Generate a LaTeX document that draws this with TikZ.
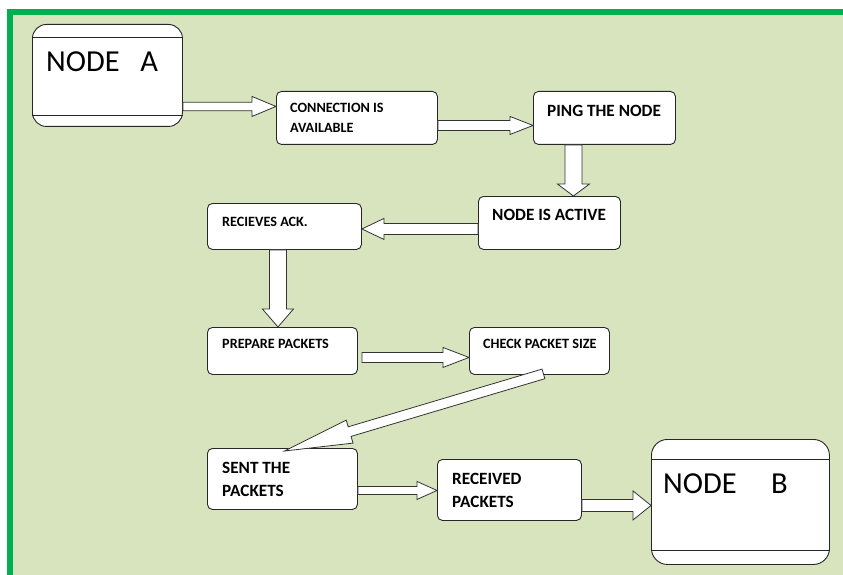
\documentclass[tikz,border=0pt]{standalone}
\usepackage{fontspec}
\setmainfont{Carlito}
\usepackage{tikz}
\usetikzlibrary{calc}
\definecolor{frameGreen}{HTML}{00B050}
\definecolor{paperGreen}{HTML}{D7E4BD}
\tikzstyle{procbox}=[draw=black!85, line width=0.9pt, fill=white, rounded corners=5, anchor=north west, inner sep=0]
\tikzstyle{endbox}=[procbox, rounded corners=14]
\tikzstyle{fat}=[draw=black!80, line width=0.8pt, fill=white, line join=miter]
\tikzstyle{txt}=[anchor=west, inner sep=0, align=left, font=\bfseries\fontsize{14.2}{20}\selectfont]
\tikzstyle{bigtxt}=[txt, font=\bfseries\fontsize{17.2}{23}\selectfont]
\tikzstyle{titletxt}=[anchor=west, inner sep=0, font=\fontsize{30.5}{36}\selectfont]
\newcommand{\proc}{\node[procbox]}
% tail, tip, shaft half width, head half width, head length
\newcommand{\fatarrow}[5]{%
  \coordinate (fa-s) at (#1);
  \coordinate (fa-t) at (#2);
  \coordinate (fa-h) at ($(fa-t)!#5pt!(fa-s)$);
  \draw[fat] ($(fa-s)!#3pt!90:(fa-t)$) -- ($(fa-h)!#3pt!90:(fa-t)$)
    -- ($(fa-h)!#4pt!90:(fa-t)$) -- (fa-t) -- ($(fa-h)!#4pt!-90:(fa-t)$)
    -- ($(fa-h)!#3pt!-90:(fa-t)$) -- ($(fa-s)!#3pt!-90:(fa-t)$) -- cycle;
}

\begin{document}
\begin{tikzpicture}[x=1pt, y=-1pt]
\useasboundingbox (0,0) rectangle (843,575);
\fill[paperGreen] (7,9) rectangle (843,575);
\fill[frameGreen] (7,9) rectangle (843,15);
\fill[frameGreen] (7,9) rectangle (13,575);

\node[endbox, minimum width=150, minimum height=102] (nodeA) at (32,24) {};
\draw[black!85, line width=0.9pt] ($(nodeA.north west)+(0,13)$) -- ($(nodeA.north east)+(0,13)$);
\draw[black!85, line width=0.9pt] ($(nodeA.south west)+(0,-11)$) -- ($(nodeA.south east)+(0,-11)$);
\node[titletxt] (nodeAtxt) at ($(nodeA.north west)+(14,38)$) {NODE~~~A};

\node[endbox, rounded corners=16, minimum width=178, minimum height=125] (nodeB) at (651,439) {};
\draw[black!85, line width=0.9pt] ($(nodeB.north west)+(0,20)$) -- ($(nodeB.north east)+(0,20)$);
\draw[black!85, line width=0.9pt] ($(nodeB.south west)+(0,-14)$) -- ($(nodeB.south east)+(0,-14)$);
\node[titletxt] (nodeBtxt) at ($(nodeB.north west)+(12,45)$) {NODE~~~~~B};

\proc[minimum width=161, minimum height=53] (conn) at (276,91) {};
\proc[minimum width=142, minimum height=53] (ping) at (533,91) {};
\proc[minimum width=142, minimum height=53] (active) at (478,196) {};
\proc[minimum width=154, minimum height=46] (recv) at (207,203) {};
\proc[minimum width=150, minimum height=47] (prep) at (207,327) {};
\proc[minimum width=140, minimum height=47] (check) at (469,327) {};
\proc[minimum width=150, minimum height=61] (sent) at (207,448) {};
\proc[minimum width=144, minimum height=61] (rcvd) at (437,459) {};

\node[txt] (conntxt) at ($(conn.north west)+(14,27)$) {CONNECTION IS\\AVAILABLE};
\node[bigtxt] (pingtxt) at ($(ping.north west)+(14,20)$) {PING THE NODE};
\node[bigtxt] (activetxt) at ($(active.north west)+(14,19)$) {NODE IS ACTIVE};
\node[txt] (recvtxt) at ($(recv.north west)+(15,19)$) {RECIEVES ACK.};
\node[txt] (preptxt) at ($(prep.north west)+(15,17)$) {PREPARE PACKETS};
\node[txt] (checktxt) at ($(check.north west)+(14,17)$) {CHECK PACKET SIZE};
\node[bigtxt] (senttxt) at ($(sent.north west)+(15,31.5)$) {SENT THE\\PACKETS};
\node[bigtxt] (rcvdtxt) at ($(rcvd.north west)+(15,31.5)$) {RECEIVED\\PACKETS};

\fatarrow{$(nodeA.east)+(0,31)$}{$(conn.west)+(0,-11.5)$}{4.25}{10}{24}
\fatarrow{$(conn.east)+(0,7.5)$}{$(ping.west)+(0,7.5)$}{5}{9}{23}
\fatarrow{$(ping.south)+(-31,0)$}{$(active.north)+(24,0)$}{8.5}{16}{12}
\fatarrow{$(active.west)+(0,6)$}{$(recv.east)+(0,2.5)$}{5.5}{10.5}{22}
\fatarrow{$(recv.south)+(-6.5,0)$}{$(prep.north)+(-4.5,0)$}{8.5}{15.5}{18}
\fatarrow{$(prep.east)+(4,6.5)$}{$(check.west)+(0,6.5)$}{5}{10}{26}
\fatarrow{$(check.south)+(4,-1)$}{$(sent.north)+(2,3)$}{5}{12}{68}
\fatarrow{$(sent.east)+(0,11.5)$}{$(rcvd.west)+(0,0.5)$}{4}{9}{20}
\fatarrow{$(rcvd.east)+(0,15.5)$}{$(nodeB.west)+(0,3.5)$}{6}{14.5}{18}
\end{tikzpicture}
\end{document}
